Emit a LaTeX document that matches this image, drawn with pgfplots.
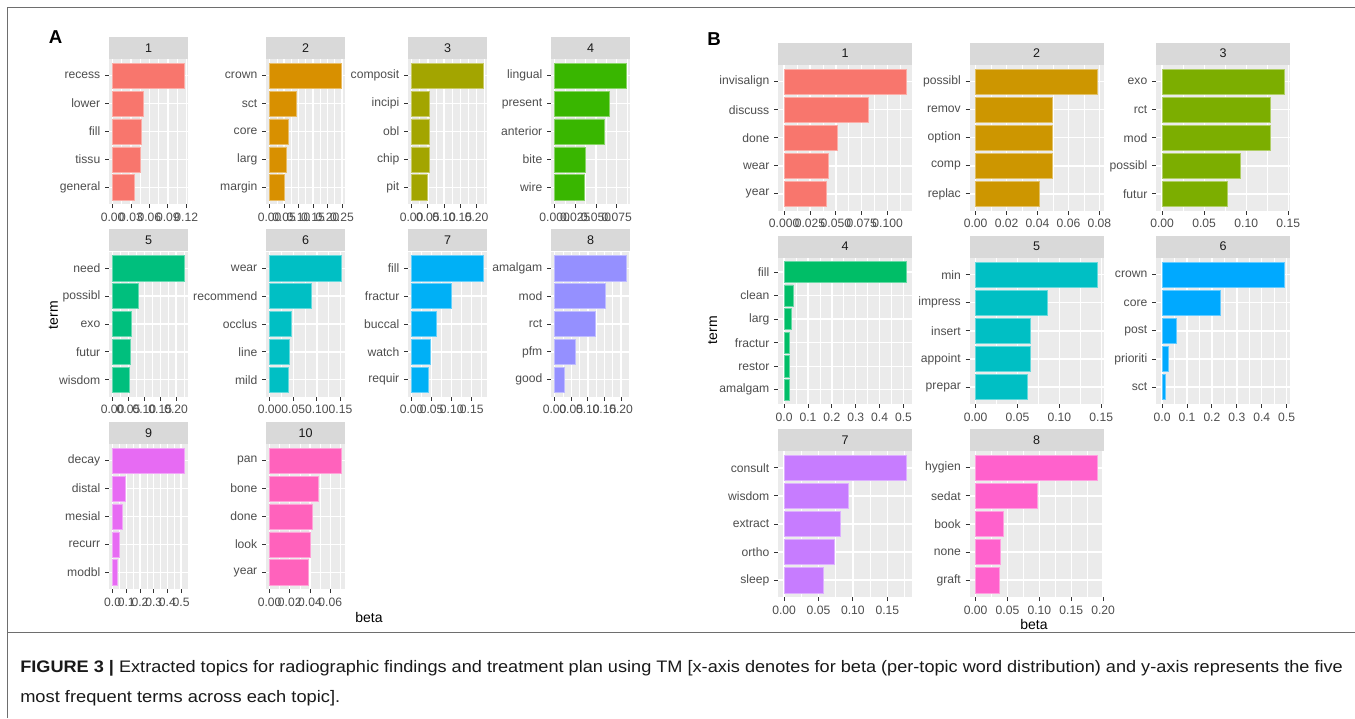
\documentclass[border=0pt]{standalone}
\usepackage{pgfplots}
\pgfplotsset{compat=1.18}
\usepackage{fontspec}
\setmainfont{Liberation Sans}
\usepackage{graphicx}

\definecolor{panelbg}{HTML}{EBEBEB}
\definecolor{stripc}{HTML}{D9D9D9}
\definecolor{stript}{HTML}{1A1A1A}
\definecolor{labc}{HTML}{4D4D4D}
\definecolor{tickc}{HTML}{333333}
\definecolor{framec}{HTML}{6E6E6E}
% panel A palette (10 hues)
\definecolor{ca1}{HTML}{F8766D}
\definecolor{ca2}{HTML}{D89000}
\definecolor{ca3}{HTML}{A3A500}
\definecolor{ca4}{HTML}{39B600}
\definecolor{ca5}{HTML}{00BF7D}
\definecolor{ca6}{HTML}{00BFC4}
\definecolor{ca7}{HTML}{00B0F6}
\definecolor{ca8}{HTML}{9590FF}
\definecolor{ca9}{HTML}{E76BF3}
\definecolor{ca10}{HTML}{FF62BC}
% panel B palette (8 hues)
\definecolor{cb1}{HTML}{F8766D}
\definecolor{cb2}{HTML}{CD9600}
\definecolor{cb3}{HTML}{7CAE00}
\definecolor{cb4}{HTML}{00BE67}
\definecolor{cb5}{HTML}{00BFC4}
\definecolor{cb6}{HTML}{00A9FF}
\definecolor{cb7}{HTML}{C77CFF}
\definecolor{cb8}{HTML}{FF61CC}

\pgfplotsset{
  facet/.style={
    scale only axis, anchor=south west,
    xbar, bar width=0.9, bar shift=0pt,
    axis background/.style={fill=panelbg},
    axis line style={draw=none},
    tick align=outside, tick pos=left,
    major tick length=3pt, minor tick length=0pt,
    tick style={color=tickc, line width=0.7pt},
    grid=both,
    major grid style={white, line width=1.0pt},
    minor grid style={white, line width=0.5pt},
    ytick={1,2,3,4,5}, ymin=0.4, ymax=5.6,
    scaled x ticks=false, scaled y ticks=false,
    ticklabel style={font=\fontsize{9.1}{10}\selectfont, text=labc},
    /pgf/number format/assume math mode=true,
    clip=false,
    every axis title/.style={at={(0.5,1)}, anchor=south, fill=stripc,
      minimum height=16.5pt, inner sep=0pt, text=stript,
      font=\fontsize{9.4}{10}\selectfont},
  },
  facetA/.style={facet, width=59.25pt, height=108.75pt,
    every axis title/.append style={minimum width=59.25pt}},
  facetB/.style={facet, width=100.5pt, height=109.5pt,
    every axis title/.append style={minimum width=100.5pt}},
}

\begin{document}
\begin{tikzpicture}
\path[use as bounding box] (0,0) rectangle ({1355*0.75pt},{-718*0.75pt});

% frame
\draw[framec, line width=0.75pt] ({7*0.75pt},{-718*0.75pt}) -- ({7*0.75pt},{-7*0.75pt}) -- ({1355*0.75pt},{-7*0.75pt});
\draw[framec, line width=0.75pt] ({7*0.75pt},{-632*0.75pt}) -- ({1355*0.75pt},{-632*0.75pt});

% ================= PANEL A =================
% A1
\begin{axis}[facetA, at={({109*0.75pt},{-204*0.75pt})}, title={1},
  xmin=-0.00585, xmax=0.12285,
  xtick={0,0.03,0.06,0.09,0.12}, xticklabels={0.00,0.03,0.06,0.09,0.12},
  minor xtick={0.015,0.045,0.075,0.105},
  yticklabels={general,tissu,fill,lower,recess}]
\addplot[fill=ca1, draw=ca1!60!white] coordinates {(0.117,5) (0.0497,4) (0.046,3) (0.0443,2) (0.0351,1)};
\end{axis}
% A2
\begin{axis}[facetA, at={({266*0.75pt},{-204*0.75pt})}, title={2},
  xmin=-0.0124, xmax=0.2604,
  xtick={0,0.05,0.1,0.15,0.2,0.25}, xticklabels={0.00,0.05,0.10,0.15,0.20,0.25},
  minor xtick={0.025,0.075,0.125,0.175,0.225},
  yticklabels={margin,larg,core,sct,crown}]
\addplot[fill=ca2, draw=ca2!60!white] coordinates {(0.248,5) (0.092,4) (0.065,3) (0.058,2) (0.049,1)};
\end{axis}
% A3
\begin{axis}[facetA, at={({408*0.75pt},{-204*0.75pt})}, title={3},
  xmin=-0.01105, xmax=0.23205,
  xtick={0,0.05,0.1,0.15,0.2}, xticklabels={0.00,0.05,0.10,0.15,0.20},
  minor xtick={0.025,0.075,0.125,0.175,0.225},
  yticklabels={pit,chip,obl,incipi,composit}]
\addplot[fill=ca3, draw=ca3!60!white] coordinates {(0.221,5) (0.055,4) (0.055,3) (0.055,2) (0.047,1)};
\end{axis}
% A4
\begin{axis}[facetA, at={({551*0.75pt},{-204*0.75pt})}, title={4},
  xmin=-0.004335, xmax=0.091035,
  xtick={0,0.025,0.05,0.075}, xticklabels={0.000,0.025,0.050,0.075},
  minor xtick={0.0125,0.0375,0.0625,0.0875},
  yticklabels={wire,bite,anterior,present,lingual}]
\addplot[fill=ca4, draw=ca4!60!white] coordinates {(0.0867,5) (0.066,4) (0.060,3) (0.0367,2) (0.0359,1)};
\end{axis}
% A5
\begin{axis}[facetA, at={({109*0.75pt},{-396.5*0.75pt})}, title={5},
  xmin=-0.0113, xmax=0.2373,
  xtick={0,0.05,0.1,0.15,0.2}, xticklabels={0.00,0.05,0.10,0.15,0.20},
  minor xtick={0.025,0.075,0.125,0.175,0.225},
  yticklabels={wisdom,futur,exo,possibl,need}]
\addplot[fill=ca5, draw=ca5!60!white] coordinates {(0.226,5) (0.081,4) (0.059,3) (0.056,2) (0.051,1)};
\end{axis}
% A6
\begin{axis}[facetA, at={({266*0.75pt},{-396.5*0.75pt})}, title={6},
  xmin=-0.0076, xmax=0.1596,
  xtick={0,0.05,0.1,0.15}, xticklabels={0.00,0.05,0.10,0.15},
  minor xtick={0.025,0.075,0.125},
  yticklabels={mild,line,occlus,recommend,wear}]
\addplot[fill=ca6, draw=ca6!60!white] coordinates {(0.152,5) (0.088,4) (0.0456,3) (0.041,2) (0.040,1)};
\end{axis}
% A7
\begin{axis}[facetA, at={({408*0.75pt},{-396.5*0.75pt})}, title={7},
  xmin=-0.00895, xmax=0.18795,
  xtick={0,0.05,0.1,0.15}, xticklabels={0.00,0.05,0.10,0.15},
  minor xtick={0.025,0.075,0.125,0.175},
  yticklabels={requir,watch,buccal,fractur,fill}]
\addplot[fill=ca7, draw=ca7!60!white] coordinates {(0.179,5) (0.098,4) (0.062,3) (0.046,2) (0.042,1)};
\end{axis}
% A8
\begin{axis}[facetA, at={({551*0.75pt},{-396.5*0.75pt})}, title={8},
  xmin=-0.0108, xmax=0.2268,
  xtick={0,0.05,0.1,0.15,0.2}, xticklabels={0.00,0.05,0.10,0.15,0.20},
  minor xtick={0.025,0.075,0.125,0.175,0.225},
  yticklabels={good,pfm,rct,mod,amalgam}]
\addplot[fill=ca8, draw=ca8!60!white] coordinates {(0.216,5) (0.151,4) (0.122,3) (0.061,2) (0.029,1)};
\end{axis}
% A9
\begin{axis}[facetA, at={({109*0.75pt},{-589*0.75pt})}, title={9},
  xmin=-0.0262, xmax=0.5502,
  xtick={0,0.1,0.2,0.3,0.4,0.5}, xticklabels={0.0,0.1,0.2,0.3,0.4,0.5},
  minor xtick={0.05,0.15,0.25,0.35,0.45},
  yticklabels={modbl,recurr,mesial,distal,decay}]
\addplot[fill=ca9, draw=ca9!60!white] coordinates {(0.524,5) (0.089,4) (0.068,3) (0.046,2) (0.034,1)};
\end{axis}
% A10
\begin{axis}[facetA, at={({266*0.75pt},{-589*0.75pt})}, title={10},
  xmin=-0.003555, xmax=0.074655,
  xtick={0,0.02,0.04,0.06}, xticklabels={0.00,0.02,0.04,0.06},
  minor xtick={0.01,0.03,0.05,0.07},
  yticklabels={year,look,done,bone,pan}]
\addplot[fill=ca10, draw=ca10!60!white] coordinates {(0.0711,5) (0.0485,4) (0.042,3) (0.040,2) (0.038,1)};
\end{axis}

% ================= PANEL B =================
% B1
\begin{axis}[facetB, at={({778*0.75pt},{-210.8*0.75pt})}, title={1},
  xmin=-0.005885, xmax=0.123585,
  xtick={0,0.025,0.05,0.075,0.1}, xticklabels={0.000,0.025,0.050,0.075,0.100},
  minor xtick={0.0125,0.0375,0.0625,0.0875,0.1125},
  yticklabels={year,wear,done,discuss,invisalign}]
\addplot[fill=cb1, draw=cb1!60!white] coordinates {(0.1177,5) (0.081,4) (0.0516,3) (0.0423,2) (0.0403,1)};
\end{axis}
% B2
\begin{axis}[facetB, at={({969.5*0.75pt},{-210.8*0.75pt})}, title={2},
  xmin=-0.003935, xmax=0.082635,
  xtick={0,0.02,0.04,0.06,0.08}, xticklabels={0.00,0.02,0.04,0.06,0.08},
  minor xtick={0.01,0.03,0.05,0.07},
  yticklabels={replac,comp,option,remov,possibl}]
\addplot[fill=cb2, draw=cb2!60!white] coordinates {(0.0787,5) (0.0497,4) (0.0497,3) (0.0497,2) (0.0411,1)};
\end{axis}
% B3
\begin{axis}[facetB, at={({1156*0.75pt},{-210.8*0.75pt})}, title={3},
  xmin=-0.00724, xmax=0.15204,
  xtick={0,0.05,0.1,0.15}, xticklabels={0.00,0.05,0.10,0.15},
  minor xtick={0.025,0.075,0.125},
  yticklabels={futur,possibl,mod,rct,exo}]
\addplot[fill=cb3, draw=cb3!60!white] coordinates {(0.1448,5) (0.1286,4) (0.1286,3) (0.0925,2) (0.0778,1)};
\end{axis}
% B4
\begin{axis}[facetB, at={({778*0.75pt},{-403.9*0.75pt})}, title={4},
  xmin=-0.0255, xmax=0.5355,
  ytick={1,2,3,4,5,6}, ymax=6.6,
  xtick={0,0.1,0.2,0.3,0.4,0.5}, xticklabels={0.0,0.1,0.2,0.3,0.4,0.5},
  minor xtick={0.05,0.15,0.25,0.35,0.45},
  yticklabels={amalgam,restor,fractur,larg,clean,fill}]
\addplot[fill=cb4, draw=cb4!60!white] coordinates {(0.51,6) (0.039,5) (0.031,4) (0.021,3) (0.021,2) (0.021,1)};
\end{axis}
% B5
\begin{axis}[facetB, at={({969.5*0.75pt},{-403.9*0.75pt})}, title={5},
  xmin=-0.007275, xmax=0.152775,
  xtick={0,0.05,0.1,0.15}, xticklabels={0.00,0.05,0.10,0.15},
  minor xtick={0.025,0.075,0.125},
  yticklabels={prepar,appoint,insert,impress,min}]
\addplot[fill=cb5, draw=cb5!60!white] coordinates {(0.1455,5) (0.0855,4) (0.065,3) (0.065,2) (0.0615,1)};
\end{axis}
% B6
\begin{axis}[facetB, at={({1156*0.75pt},{-403.9*0.75pt})}, title={6},
  xmin=-0.02445, xmax=0.51345,
  xtick={0,0.1,0.2,0.3,0.4,0.5}, xticklabels={0.0,0.1,0.2,0.3,0.4,0.5},
  minor xtick={0.05,0.15,0.25,0.35,0.45},
  yticklabels={sct,prioriti,post,core,crown}]
\addplot[fill=cb6, draw=cb6!60!white] coordinates {(0.489,5) (0.233,4) (0.055,3) (0.0255,2) (0.011,1)};
\end{axis}
% B7
\begin{axis}[facetB, at={({778*0.75pt},{-597*0.75pt})}, title={7},
  xmin=-0.00885, xmax=0.18585,
  xtick={0,0.05,0.1,0.15}, xticklabels={0.00,0.05,0.10,0.15},
  minor xtick={0.025,0.075,0.125,0.175},
  yticklabels={sleep,ortho,extract,wisdom,consult}]
\addplot[fill=cb7, draw=cb7!60!white] coordinates {(0.177,5) (0.0927,4) (0.082,3) (0.0733,2) (0.0568,1)};
\end{axis}
% B8
\begin{axis}[facetB, at={({969.5*0.75pt},{-597*0.75pt})}, title={8},
  xmin=-0.00955, xmax=0.20055,
  xtick={0,0.05,0.1,0.15,0.2}, xticklabels={0.00,0.05,0.10,0.15,0.20},
  minor xtick={0.025,0.075,0.125,0.175},
  yticklabels={graft,none,book,sedat,hygien}]
\addplot[fill=cb8, draw=cb8!60!white] coordinates {(0.191,5) (0.0966,4) (0.0428,3) (0.0386,2) (0.0371,1)};
\end{axis}

% panel letters and axis titles
\node[font=\bfseries\fontsize{14}{14}\selectfont] at ({55.7*0.75pt},{-37.3*0.75pt}) {A};
\node[font=\bfseries\fontsize{14}{14}\selectfont] at ({714*0.75pt},{-39.3*0.75pt}) {B};
\node[rotate=90, font=\fontsize{10.5}{12}\selectfont] at ({53.3*0.75pt},{-315*0.75pt}) {term};
\node[rotate=90, font=\fontsize{10.5}{12}\selectfont] at ({712.7*0.75pt},{-330*0.75pt}) {term};
\node[font=\fontsize{10.5}{12}\selectfont] at ({369*0.75pt},{-617*0.75pt}) {beta};
\node[font=\fontsize{10.5}{12}\selectfont] at ({1034*0.75pt},{-624*0.75pt}) {beta};

% caption
\node[anchor=base west, inner sep=0pt, text=black!90] at ({20*0.75pt},{-672*0.75pt})
  {\resizebox{992pt}{\height}{\fontsize{12.5}{14}\selectfont\textbf{FIGURE 3 |} Extracted topics for radiographic findings and treatment plan using TM [x-axis denotes for beta (per-topic word distribution) and y-axis represents the five}};
\node[anchor=base west, inner sep=0pt, text=black!90] at ({20*0.75pt},{-702*0.75pt})
  {\resizebox{240pt}{\height}{\fontsize{12.5}{14}\selectfont most frequent terms across each topic].}};
\end{tikzpicture}
\end{document}
